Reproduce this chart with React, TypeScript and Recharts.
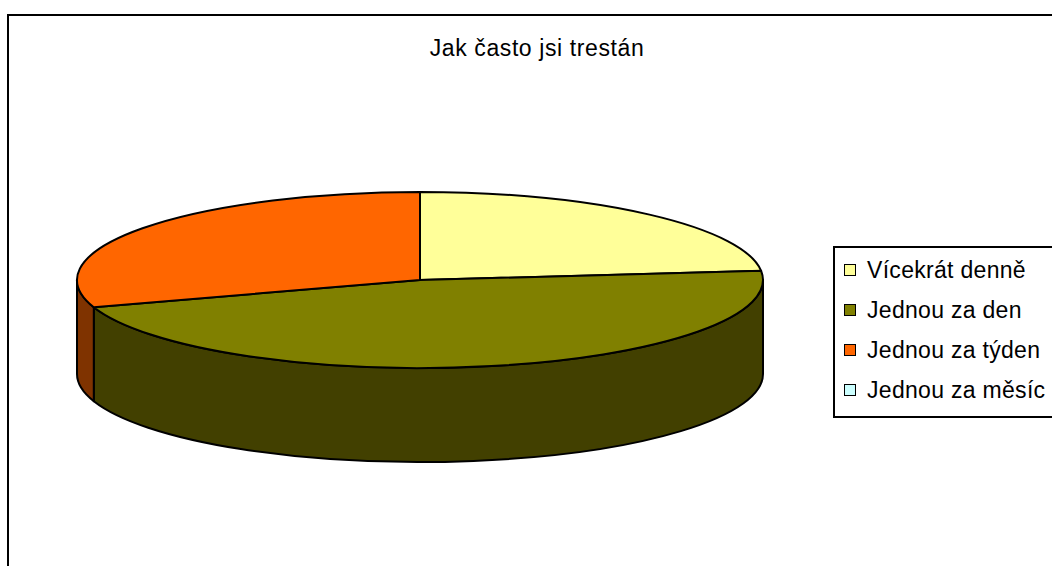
import React from 'react';
import { PieChart, Pie, Cell, Legend } from 'recharts';

const chartTitle = 'Jak často jsi trestán';
const categories = ['Vícekrát denně', 'Jednou za den', 'Jednou za týden', 'Jednou za měsíc'];
const counts = [7, 14, 9, 0];
const topColors = ['#FFFF99', '#808000', '#FF6600', '#CCFFFF'];
const sideColors = ['#80804C', '#424000', '#7F3300', '#668080'];

const data = categories.map((name, i) => ({ name, value: counts[i] }));

// fake 3d: the circle pie is squashed into an ellipse and given a wall
const TILT = 88 / 343;
const DEPTH = 94;
const FONT = '"Liberation Sans", Arial, sans-serif';

const pt = (cx: number, cy: number, rx: number, ry: number, deg: number) => {
  const r = (deg * Math.PI) / 180;
  return [cx + rx * Math.cos(r), cy - ry * Math.sin(r)];
};

const renderWall = (props: any) => {
  const { cx, cy, outerRadius, startAngle, endAngle, index } = props;
  const rx = outerRadius;
  const ry = outerRadius * TILT;
  // only the front half (bottom of the ellipse) shows a wall
  const a1 = Math.min(startAngle, 0);
  const a2 = Math.max(endAngle, -180);
  if (a1 <= a2) return <g key={`w-${index}`} />;
  const [x1, y1] = pt(cx, cy, rx, ry, a1);
  const [x2, y2] = pt(cx, cy, rx, ry, a2);
  const d = `M${x1},${y1} A${rx},${ry} 0 0 1 ${x2},${y2} L${x2},${y2 + DEPTH} A${rx},${ry} 0 0 0 ${x1},${y1 + DEPTH} Z`;
  return (
    <path key={`w-${index}`} d={d} fill={sideColors[index]} stroke="#000" strokeWidth={2} strokeLinejoin="round" />
  );
};

const renderTop = (props: any) => {
  const { cx, cy, outerRadius, startAngle, endAngle, index } = props;
  if (startAngle === endAngle) return <g key={`t-${index}`} />;
  const rx = outerRadius;
  const ry = outerRadius * TILT;
  const [x1, y1] = pt(cx, cy, rx, ry, startAngle);
  const [x2, y2] = pt(cx, cy, rx, ry, endAngle);
  const large = startAngle - endAngle > 180 ? 1 : 0;
  const d = `M${cx},${cy} L${x1},${y1} A${rx},${ry} 0 ${large} 1 ${x2},${y2} Z`;
  return (
    <path key={`t-${index}`} d={d} fill={topColors[index]} stroke="#000" strokeWidth={2} strokeLinejoin="round" />
  );
};

const renderLegend = () => (
  <div
    style={{
      border: '2px solid #000',
      background: '#fff',
      paddingTop: 2,
      paddingBottom: 6,
      paddingLeft: 9,
      fontFamily: FONT,
      fontSize: 23,
      letterSpacing: 0.3,
      color: '#000',
    }}
  >
    {categories.map((c, i) => (
      <div key={c} style={{ display: 'flex', alignItems: 'center', height: 40, whiteSpace: 'nowrap' }}>
        <span
          style={{
            display: 'inline-block',
            width: 10,
            height: 10,
            border: '1px solid #000',
            background: topColors[i],
            marginRight: 11,
          }}
        />
        <span>{c}</span>
      </div>
    ))}
  </div>
);

const App: React.FC = () => {
  return (
    <div style={{ position: 'absolute', left: 0, top: 0, width: 1052, height: 566, overflow: 'hidden', background: '#fff' }}>
      <div
        style={{
          position: 'absolute',
          left: 7,
          top: 14,
          width: 1100,
          height: 600,
          borderLeft: '2px solid #000',
          borderTop: '2px solid #000',
        }}
      />
      <div
        style={{
          position: 'absolute',
          left: 337,
          top: 37,
          width: 400,
          textAlign: 'center',
          fontFamily: FONT,
          fontSize: 23,
          lineHeight: '23px',
          letterSpacing: 0.6,
          color: '#000',
        }}
      >
        {chartTitle}
      </div>
      <div style={{ position: 'absolute', left: 0, top: 0 }}>
        <PieChart width={1052} height={566} margin={{ top: 0, right: 0, bottom: 0, left: 0 }}>
          <Pie
            data={data}
            dataKey="value"
            nameKey="name"
            cx={420}
            cy={280}
            outerRadius={343}
            startAngle={90}
            endAngle={-270}
            fillOpacity={0}
            stroke="none"
            legendType="none"
            label={renderWall}
            labelLine={false}
            isAnimationActive={false}
          >
            {data.map((d, i) => (
              <Cell key={`s-${i}`} fill={sideColors[i]} />
            ))}
          </Pie>
          <Pie
            data={data}
            dataKey="value"
            nameKey="name"
            cx={420}
            cy={280}
            outerRadius={343}
            startAngle={90}
            endAngle={-270}
            fillOpacity={0}
            stroke="none"
            label={renderTop}
            labelLine={false}
            isAnimationActive={false}
          >
            {data.map((d, i) => (
              <Cell key={`c-${i}`} fill={topColors[i]} />
            ))}
          </Pie>
          <Legend
            layout="vertical"
            align="right"
            verticalAlign="top"
            content={renderLegend}
            wrapperStyle={{ left: 833, top: 246, right: 'auto', bottom: 'auto', width: 260 }}
          />
        </PieChart>
      </div>
    </div>
  );
};

export default App;
